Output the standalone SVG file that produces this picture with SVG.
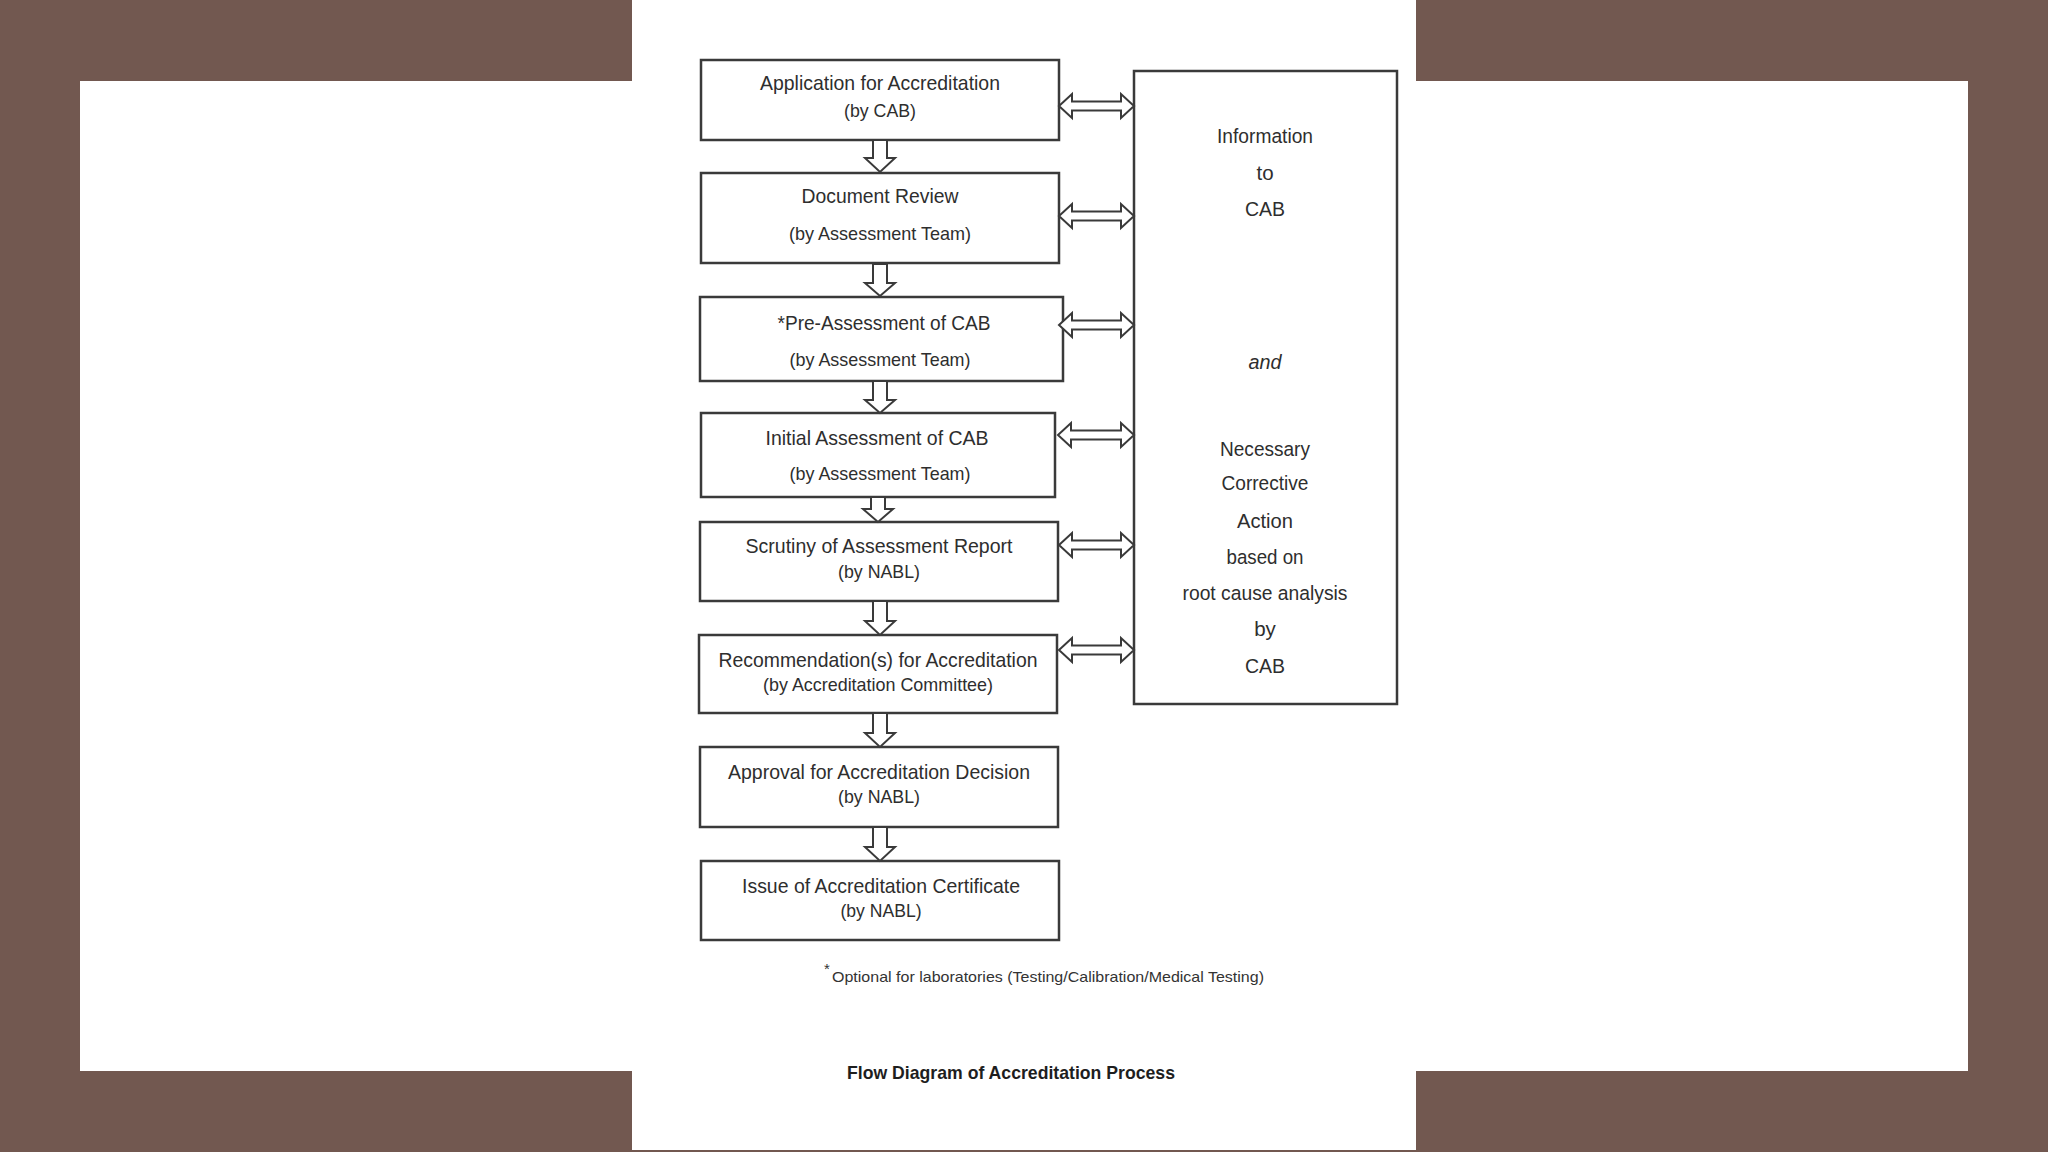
<svg xmlns="http://www.w3.org/2000/svg" width="2048" height="1152" viewBox="0 0 2048 1152">
<style>
.box{fill:#fff;stroke:#3a3a3a;stroke-width:2.5}
.arr{fill:#fff;stroke:#3a3a3a;stroke-width:2;stroke-linejoin:miter}
.t{font-family:"Liberation Sans",Arial,sans-serif;fill:#2e2e2e;text-anchor:middle;font-size:21px}
.s{font-size:19px}
.r{font-size:20.5px}
.fn{font-family:"Liberation Sans",Arial,sans-serif;fill:#333;font-size:15px}
.title{font-family:"Liberation Sans",Arial,sans-serif;fill:#1e1e1e;font-size:19px;font-weight:bold;text-anchor:middle}
</style>
<rect x="0" y="0" width="2048" height="1152" fill="#725850"/>
<rect x="80" y="81" width="1888" height="990" fill="#fff"/>
<rect x="632" y="0" width="784" height="1150" fill="#fff"/>

<g id="n1"><rect class="box" x="701" y="60" width="358" height="80"/>
<text class="t" x="880" y="90" textLength="240" lengthAdjust="spacingAndGlyphs">Application for Accreditation</text>
<text class="t s" x="880" y="117" textLength="72" lengthAdjust="spacingAndGlyphs">(by CAB)</text></g>

<g id="n2"><rect class="box" x="701" y="173" width="358" height="90"/>
<text class="t" x="880" y="203" textLength="157" lengthAdjust="spacingAndGlyphs">Document Review</text>
<text class="t s" x="880" y="240" textLength="182" lengthAdjust="spacingAndGlyphs">(by Assessment Team)</text></g>

<g id="n3"><rect class="box" x="700" y="297" width="363" height="84"/>
<text class="t" x="884" y="330" textLength="213" lengthAdjust="spacingAndGlyphs">*Pre-Assessment of CAB</text>
<text class="t s" x="880" y="366" textLength="181" lengthAdjust="spacingAndGlyphs">(by Assessment Team)</text></g>

<g id="n4"><rect class="box" x="701" y="413" width="354" height="84"/>
<text class="t" x="877" y="445" textLength="223" lengthAdjust="spacingAndGlyphs">Initial Assessment of CAB</text>
<text class="t s" x="880" y="480" textLength="181" lengthAdjust="spacingAndGlyphs">(by Assessment Team)</text></g>

<g id="n5"><rect class="box" x="700" y="522" width="358" height="79"/>
<text class="t" x="879" y="553" textLength="267" lengthAdjust="spacingAndGlyphs">Scrutiny of Assessment Report</text>
<text class="t s" x="879" y="578" textLength="82" lengthAdjust="spacingAndGlyphs">(by NABL)</text></g>

<g id="n6"><rect class="box" x="699" y="635" width="358" height="78"/>
<text class="t" x="878" y="667" textLength="319" lengthAdjust="spacingAndGlyphs">Recommendation(s) for Accreditation</text>
<text class="t s" x="878" y="691" textLength="230" lengthAdjust="spacingAndGlyphs">(by Accreditation Committee)</text></g>

<g id="n7"><rect class="box" x="700" y="747" width="358" height="80"/>
<text class="t" x="879" y="779" textLength="302" lengthAdjust="spacingAndGlyphs">Approval for Accreditation Decision</text>
<text class="t s" x="879" y="803" textLength="82" lengthAdjust="spacingAndGlyphs">(by NABL)</text></g>

<g id="n8"><rect class="box" x="701" y="861" width="358" height="79"/>
<text class="t" x="881" y="893" textLength="278" lengthAdjust="spacingAndGlyphs">Issue of Accreditation Certificate</text>
<text class="t s" x="881" y="917" textLength="81" lengthAdjust="spacingAndGlyphs">(by NABL)</text></g>

<g id="info"><rect class="box" x="1134" y="71" width="263" height="633"/>
<text class="t r" x="1265" y="143" textLength="96" lengthAdjust="spacingAndGlyphs">Information</text>
<text class="t r" x="1265" y="180">to</text>
<text class="t r" x="1265" y="216" textLength="40" lengthAdjust="spacingAndGlyphs">CAB</text>
<text class="t r" x="1265" y="369" font-style="italic" textLength="33" lengthAdjust="spacingAndGlyphs">and</text>
<text class="t r" x="1265" y="456" textLength="90" lengthAdjust="spacingAndGlyphs">Necessary</text>
<text class="t r" x="1265" y="490" textLength="87" lengthAdjust="spacingAndGlyphs">Corrective</text>
<text class="t r" x="1265" y="528" textLength="56" lengthAdjust="spacingAndGlyphs">Action</text>
<text class="t r" x="1265" y="564" textLength="77" lengthAdjust="spacingAndGlyphs">based on</text>
<text class="t r" x="1265" y="600" textLength="165" lengthAdjust="spacingAndGlyphs">root cause analysis</text>
<text class="t r" x="1265" y="636">by</text>
<text class="t r" x="1265" y="673" textLength="40" lengthAdjust="spacingAndGlyphs">CAB</text></g>

<g id="connectors">
<polygon class="arr" points="873,140 887,140 887,158 895,158 880,172 865,158 873,158"/>
<polygon class="arr" points="873,264 887,264 887,283 895,283 880,296 865,283 873,283"/>
<polygon class="arr" points="873,381 887,381 887,400 895,400 880,413 865,400 873,400"/>
<polygon class="arr" points="871,497 885,497 885,509 893,509 878,522 863,509 871,509"/>
<polygon class="arr" points="873,601 887,601 887,621 895,621 880,635 865,621 873,621"/>
<polygon class="arr" points="873,713 887,713 887,733 895,733 880,747 865,733 873,733"/>
<polygon class="arr" points="873,827 887,827 887,847 895,847 880,861 865,847 873,847"/>

<polygon class="arr" points="1059,106 1072,94 1072,101.5 1121,101.5 1121,94 1134,106 1121,118 1121,110.5 1072,110.5 1072,118"/>
<polygon class="arr" points="1059,216 1072,204 1072,211.5 1121,211.5 1121,204 1134,216 1121,228 1121,220.5 1072,220.5 1072,228"/>
<polygon class="arr" points="1059,325 1072,313 1072,320.5 1121,320.5 1121,313 1134,325 1121,337 1121,329.5 1072,329.5 1072,337"/>
<polygon class="arr" points="1058,435 1071,423 1071,430.5 1121,430.5 1121,423 1134,435 1121,447 1121,439.5 1071,439.5 1071,447"/>
<polygon class="arr" points="1059,545 1072,533 1072,540.5 1121,540.5 1121,533 1134,545 1121,557 1121,549.5 1072,549.5 1072,557"/>
<polygon class="arr" points="1059,650 1072,638 1072,645.5 1121,645.5 1121,638 1134,650 1121,662 1121,654.5 1072,654.5 1072,662"/>
</g>

<text class="fn" x="824" y="974" font-size="14">*</text>
<text class="fn" x="832" y="982" textLength="432" lengthAdjust="spacingAndGlyphs">Optional for laboratories (Testing/Calibration/Medical Testing)</text>
<text class="title" x="1011" y="1079" textLength="328" lengthAdjust="spacingAndGlyphs">Flow Diagram of Accreditation Process</text>
</svg>
